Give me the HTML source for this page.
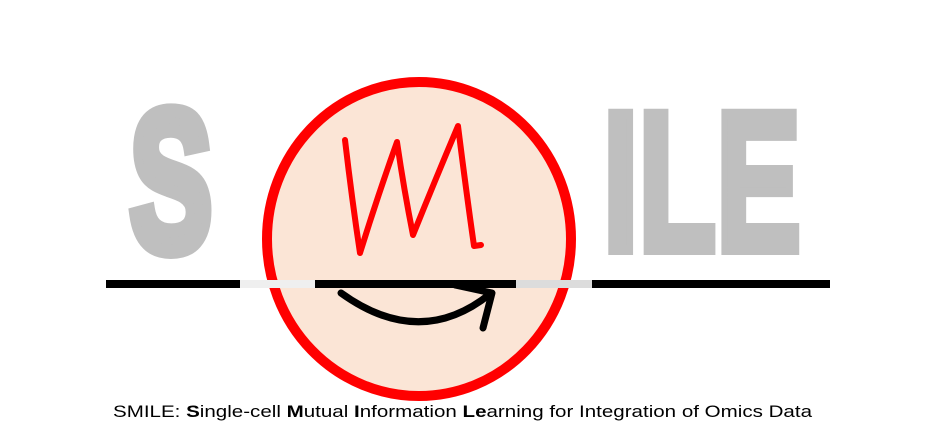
<!DOCTYPE html>
<html><head><meta charset="utf-8"><style>html,body{margin:0;padding:0;background:#fff}svg{display:block}</style></head>
<body>
<svg width="928" height="442" viewBox="0 0 928 442" xmlns="http://www.w3.org/2000/svg">
<rect width="928" height="442" fill="#fff"/>
<g fill="#bfbfbf" stroke="#bfbfbf" stroke-linejoin="miter" font-family="Liberation Sans Narrow, Liberation Sans, sans-serif" font-weight="bold">
<text x="0" y="0" font-size="200" stroke-width="14" transform="translate(130,250)" textLength="82" lengthAdjust="spacingAndGlyphs">S</text>
<text x="0" y="0" font-size="198" stroke-width="10" transform="translate(603,250)" textLength="198" lengthAdjust="spacingAndGlyphs">ILE</text>
</g>
<ellipse cx="419" cy="239" rx="152" ry="157" fill="#fbe5d6" stroke="#ff0000" stroke-width="10"/>
<path d="M345,140 Q352,200 360,253 Q378,195 397,142 Q404,190 413,235 Q436,178 458,126 Q466,190 474,246 L481,245" fill="none" stroke="#ff0000" stroke-width="6" stroke-linecap="round" stroke-linejoin="round"/>
<rect x="106" y="280" width="134" height="8" fill="#000"/>
<rect x="240" y="280" width="75" height="8" fill="#efefef"/>
<rect x="315" y="280" width="201" height="8" fill="#000"/>
<rect x="516" y="280" width="76" height="8" fill="#dcdcdc"/>
<rect x="592" y="280" width="238" height="8" fill="#000"/>
<path d="M341,293 Q420,350 490,294" fill="none" stroke="#000" stroke-width="7" stroke-linecap="round"/>
<path d="M455,285 L492,293 L483,328" fill="none" stroke="#000" stroke-width="7" stroke-linecap="round" stroke-linejoin="round"/>
<text x="113" y="417" font-family="Liberation Sans, sans-serif" font-size="17" fill="#000" textLength="699" lengthAdjust="spacingAndGlyphs">SMILE: <tspan font-weight="bold">S</tspan>ingle-cell <tspan font-weight="bold">M</tspan>utual <tspan font-weight="bold">I</tspan>nformation <tspan font-weight="bold">Le</tspan>arning for Integration of Omics Data</text>
</svg>
</body></html>
